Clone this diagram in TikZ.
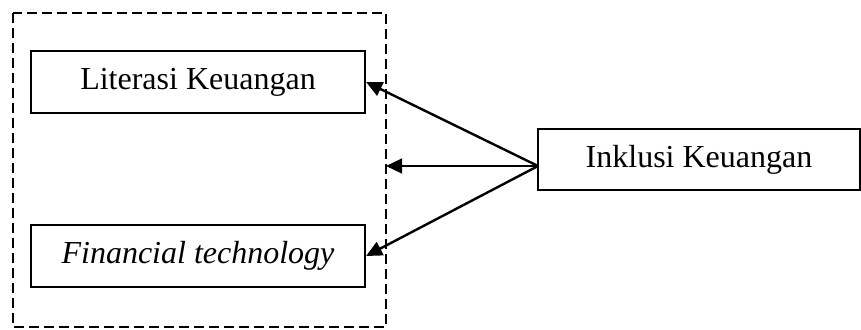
\documentclass[tikz,border=0pt]{standalone}
\usepackage{fontspec}
\setmainfont{Liberation Serif}
\usetikzlibrary{arrows.meta}
\begin{document}
\begin{tikzpicture}[x=0.75pt,y=-0.75pt,
  box/.style={draw,line width=1.6pt,inner sep=0pt,font=\fontsize{24}{28}\selectfont},
  arr/.style={line width=1.8pt,-{Triangle[length=12pt,width=11pt]}},
  group/.style={draw,line width=1.9pt,dash pattern=on 7.5pt off 3.75pt}]
\useasboundingbox (0,0) rectangle (861,329);
\draw[group] (13,13) rectangle (386,327);
\node[box,minimum width=250.5pt,minimum height=46.5pt] (b1) at (198,82) {Literasi Keuangan};
\node[box,minimum width=250.5pt,minimum height=46.5pt] (b2) at (198,256) {\itshape Financial technology};
\node[box,minimum width=241.5pt,minimum height=45.75pt] (ik) at (699,159.5) {Inklusi Keuangan};
\coordinate (src) at (538,166);
\coordinate (mid) at (386,166);
\draw[arr] (src) -- (b1.east);
\draw[arr] (src) -- (mid);
\draw[arr] (src) -- (b2.east);
\end{tikzpicture}
\end{document}
